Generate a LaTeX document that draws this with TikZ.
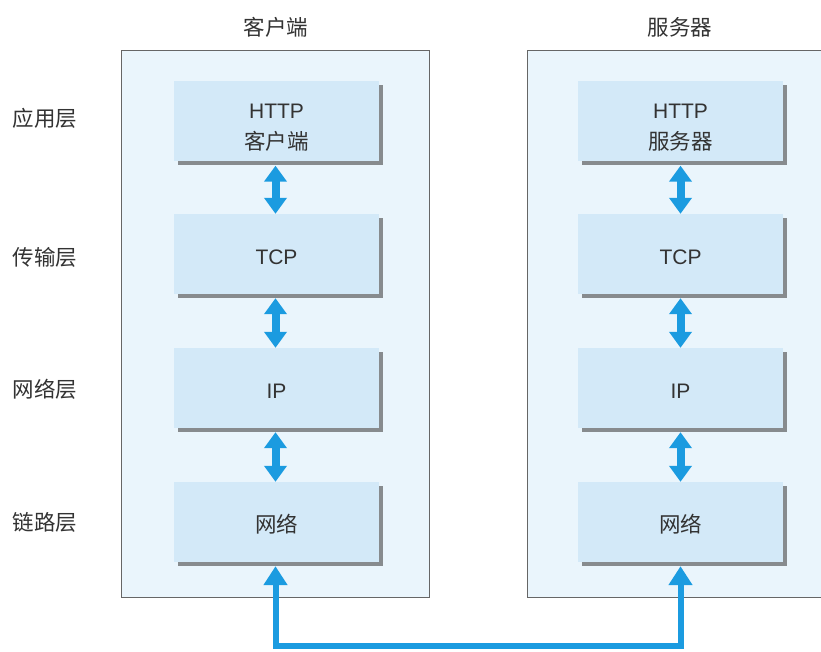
\documentclass[tikz,border=0pt]{standalone}
\usepackage{fontspec}
\setmainfont{Liberation Sans}
\newfontfamily\cjk{Noto Sans CJK SC}
\usetikzlibrary{arrows.meta,shadows}
\definecolor{outerfill}{HTML}{EAF5FC}
\definecolor{innerfill}{HTML}{D3E9F8}
\definecolor{shadowgray}{HTML}{878B8E}
\definecolor{bordergray}{HTML}{666666}
\definecolor{arrowblue}{HTML}{1B9BE0}
\definecolor{textgray}{HTML}{333333}
\newcommand{\cjkbig}{\cjk\fontsize{21.5}{30.5}\selectfont}
\tikzset{
  outerbox/.style={draw=bordergray, line width=1.2pt, fill=outerfill, anchor=north west, inner sep=0pt},
  layer/.style={fill=innerfill, minimum width=205pt, minimum height=80pt, inner sep=0pt, align=center,
    general shadow={fill=shadowgray, shadow xshift=4pt, shadow yshift=-4pt}},
  oneline/.style={text height=21pt, text depth=1pt},
  dbl/.style={draw=arrowblue, line width=8pt, {Triangle[width=22pt,length=16pt]}-{Triangle[width=22pt,length=16pt]}},
  bus/.style={draw=arrowblue, line width=6pt, line join=miter, {Triangle[width=23pt,length=19pt]}-{Triangle[width=23pt,length=19pt]}},
  lbl/.style={text=textgray, font=\cjk\fontsize{21.5}{24}\selectfont},
}
\begin{document}
\begin{tikzpicture}[x=1pt,y=-1pt, font=\fontsize{21}{30.5}\selectfont, text=textgray]
\useasboundingbox (0,0) rectangle (821,652);
\clip (0,0) rectangle (821,652);
\fill[white] (0,0) rectangle (821,652);

% outer boxes
\node[outerbox, minimum width=308pt, minimum height=547pt] (client) at (121,50) {};
\node[outerbox, minimum width=320pt, minimum height=547pt] (server) at (527,50) {};

% titles
\node[lbl] (tclient) at (276,27) {客户端};
\node[lbl] (tserver) at (680,27) {服务器};

% layer labels
\node[lbl] (lapp) at (45,118) {应用层};
\node[lbl] (ltrans) at (45,257) {传输层};
\node[lbl] (lnet) at (45,389) {网络层};
\node[lbl] (llink) at (45,522) {链路层};

% client stack
\node[layer] (c1) at (276.5,121.5) {\rule{0pt}{27pt}HTTP\\{\cjkbig 客户端}};
\node[layer, oneline] (c2) at (276.5,254) {TCP};
\node[layer, oneline] (c3) at (276.5,388) {IP};
\node[layer, oneline] (c4) at (276.5,522) {\cjkbig 网络};

% server stack
\node[layer] (s1) at (680.5,121.5) {\rule{0pt}{27pt}HTTP\\{\cjkbig 服务器}};
\node[layer, oneline] (s2) at (680.5,254) {TCP};
\node[layer, oneline] (s3) at (680.5,388) {IP};
\node[layer, oneline] (s4) at (680.5,522) {\cjkbig 网络};

% double arrows
\draw[dbl] ([xshift=-1pt,yshift=-4pt]c1.south) -- ([xshift=-1pt]c2.north);
\draw[dbl] ([xshift=-1pt,yshift=-4pt]c2.south) -- ([xshift=-1pt]c3.north);
\draw[dbl] ([xshift=-1pt,yshift=-4pt]c3.south) -- ([xshift=-1pt]c4.north);
\draw[dbl] ([yshift=-4pt]s1.south) -- (s2.north);
\draw[dbl] ([yshift=-4pt]s2.south) -- (s3.north);
\draw[dbl] ([yshift=-4pt]s3.south) -- (s4.north);

% physical link
\draw[bus] ([xshift=-1pt,yshift=-4pt]c4.south) -- ++(0,80) -| ([yshift=-4pt]s4.south);
\end{tikzpicture}
\end{document}
